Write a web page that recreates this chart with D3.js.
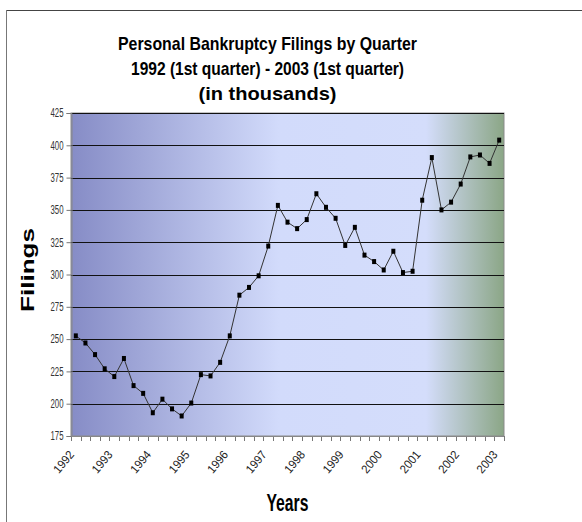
<!DOCTYPE html>
<html><head><meta charset="utf-8">
<script src="https://cdn.jsdelivr.net/npm/d3@7"></script>
<style>
body{margin:0;background:#fff;}
svg{display:block;}
</style></head>
<body>
<svg id="chart" width="582" height="522"></svg>
<script>
const titleLines = ["Personal Bankruptcy Filings by Quarter", "1992 (1st quarter) - 2003 (1st quarter)", "(in thousands)"];
const titleWidths = [299, 273, 138];
const yearLabels = ["1992","1993","1994","1995","1996","1997","1998","1999","2000","2001","2002","2003"];
const yTicks = [175,200,225,250,275,300,325,350,375,400,425];
const filings = [252.5,247,238,227,221,235,214,208,193,203.5,196,190.5,200.5,222.5,221.5,232,252.5,284,290,299,322,353.5,340.5,335.5,342.5,362.5,352,343.5,322.5,336.5,315,310,303.5,318,301.5,302.5,357.5,390.5,350,356,370,391,392.5,386,404];

const FONT = "'Liberation Sans',Arial,sans-serif";
const svg = d3.select("#chart");
const m = {left:71, right:504, top:113, bottom:436};

// frame
svg.append("line").attr("x1",6).attr("x2",582).attr("y1",10.5).attr("y2",10.5).attr("stroke","#444").attr("stroke-width",1);
svg.append("line").attr("x1",6.5).attr("x2",6.5).attr("y1",10).attr("y2",522).attr("stroke","#777").attr("stroke-width",1);

// gradient
const defs = svg.append("defs");
const g = defs.append("linearGradient").attr("id","bg").attr("x1","0%").attr("x2","100%").attr("y1","0%").attr("y2","0%");
[["0%","#868cc6"],["48%","#d2dbfb"],["82%","#d4ddfb"],["100%","#8ba686"]].forEach(s=>g.append("stop").attr("offset",s[0]).attr("stop-color",s[1]));

const cats = d3.range(filings.length);
const x = d3.scaleBand().domain(cats).range([m.left, m.right]).padding(0);
const y = d3.scaleLinear().domain([175,425]).range([m.bottom, m.top]);

svg.append("rect").attr("x",m.left).attr("y",m.top).attr("width",m.right-m.left).attr("height",m.bottom-m.top).attr("fill","url(#bg)").attr("stroke","#8a8a8a").attr("stroke-width",1);

// gridlines
svg.append("g").selectAll("line").data(yTicks.slice(1)).join("line")
  .attr("x1",m.left).attr("x2",m.right)
  .attr("y1",d=>Math.round(y(d))+0.5).attr("y2",d=>Math.round(y(d))+0.5)
  .attr("stroke","#111").attr("stroke-width",1);

// y axis
const yAxis = svg.append("g").attr("transform",`translate(${m.left+0.5},0)`)
  .call(d3.axisLeft(y).tickValues(yTicks).tickSize(5).tickPadding(3).tickFormat(d3.format("d")));
yAxis.select(".domain").attr("stroke","#888");
yAxis.selectAll(".tick line").attr("stroke","#777");
yAxis.selectAll("text").attr("font-family",FONT).attr("font-size",12).attr("fill","#333")
  .attr("textLength",13).attr("lengthAdjust","spacingAndGlyphs");

// x axis ticks at category boundaries
const bounds = d3.range(filings.length+1).map(i=>m.left + i*x.step());
svg.append("g").selectAll("line").data(bounds).join("line")
  .attr("x1",d=>Math.round(d)+0.5).attr("x2",d=>Math.round(d)+0.5)
  .attr("y1",m.bottom).attr("y2",m.bottom+5).attr("stroke","#777");
svg.append("line").attr("x1",m.left).attr("x2",m.right).attr("y1",m.bottom+0.5).attr("y2",m.bottom+0.5).attr("stroke","#888");

// year labels every 4 quarters
svg.append("g").selectAll("text").data(yearLabels).join("text")
  .attr("transform",(d,i)=>`translate(${x(i*4)+x.bandwidth()/2-1},${m.bottom+19}) rotate(-50)`)
  .attr("text-anchor","end").attr("font-family",FONT).attr("font-size",12).attr("fill","#222")
  .attr("textLength",25).attr("lengthAdjust","spacingAndGlyphs")
  .text(d=>d);

// line
const line = d3.line().x((d,i)=>x(i)+x.bandwidth()/2).y(d=>y(d));
svg.append("path").datum(filings).attr("d",line).attr("fill","none").attr("stroke","#333").attr("stroke-width",1);
svg.append("g").selectAll("rect").data(filings).join("rect")
  .attr("x",(d,i)=>x(i)+x.bandwidth()/2-2).attr("y",d=>y(d)-2.5)
  .attr("width",4).attr("height",5).attr("fill","#000");

// titles
svg.append("g").selectAll("text").data(titleLines).join("text")
  .attr("x",267.5).attr("y",(d,i)=>50+i*25).attr("text-anchor","middle")
  .attr("font-family",FONT).attr("font-weight","bold").attr("font-size",19).attr("fill","#000")
  .attr("textLength",(d,i)=>titleWidths[i]).attr("lengthAdjust","spacingAndGlyphs")
  .text(d=>d);

svg.append("text").attr("x",287.5).attr("y",511).attr("text-anchor","middle")
  .attr("font-family",FONT).attr("font-weight","bold").attr("font-size",24)
  .attr("textLength",42).attr("lengthAdjust","spacingAndGlyphs").text("Years");

svg.append("text").attr("transform","translate(34,270) rotate(-90)").attr("text-anchor","middle")
  .attr("font-family",FONT).attr("font-weight","bold").attr("font-size",19)
  .attr("textLength",84).attr("lengthAdjust","spacingAndGlyphs").text("Filings");
</script>
</body></html>
